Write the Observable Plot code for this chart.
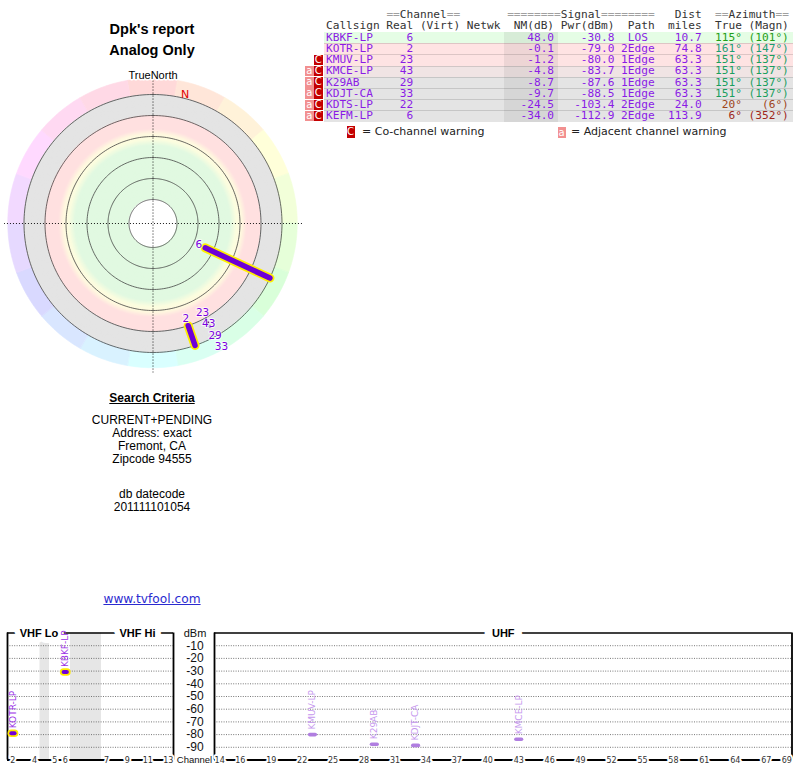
<!DOCTYPE html>
<html><head><meta charset="utf-8">
<script src="https://cdn.jsdelivr.net/npm/d3@7"></script>
<script src="https://cdn.jsdelivr.net/npm/@observablehq/plot@0.6"></script>
<style>
body{margin:0;background:#fff;}
#page{position:relative;width:800px;height:768px;overflow:hidden;font-family:"Liberation Sans",Arial,sans-serif;color:#000;}
.abs{position:absolute;white-space:pre;}
.mono{font-family:"DejaVu Sans Mono",monospace;font-size:11.15px;line-height:10.5px;}
.hdr{font-family:"DejaVu Sans Mono",monospace;font-size:11.15px;line-height:10px;height:10px;overflow:visible;}
</style></head><body>
<div id="page"></div>
<script>
// ---------------- data ----------------
const callsigns = ["KBKF-LP","KOTR-LP","KMUV-LP","KMCE-LP","K29AB","KDJT-CA","KDTS-LP","KEFM-LP"];
const realCh    = [6, 2, 23, 43, 29, 33, 22, 6];
const nmDb      = [48.0, -0.1, -1.2, -4.8, -8.7, -9.7, -24.5, -34.0];
const pwrDbm    = [-30.8, -79.0, -80.0, -83.7, -87.6, -88.5, -103.4, -112.9];
const paths     = ["LOS","2Edge","1Edge","1Edge","1Edge","1Edge","2Edge","2Edge"];
const distMi    = [10.7, 74.8, 63.3, 63.3, 63.3, 63.3, 24.0, 113.9];
const azTrue    = [115, 161, 151, 151, 151, 151, 20, 6];
const azMagn    = [101, 147, 137, 137, 137, 137, 6, 352];
const coWarn    = [false, false, true, true, true, true, true, true];
const adjWarn   = [false, false, false, true, true, true, true, true];

const ringNM      = [80, 60, 40, 20, 0, -20];
const sectorAz    = d3.range(0, 360, 20);
const dbmTicks    = [-10, -20, -30, -40, -50, -60, -70, -80, -90];
const vhfTicks    = [2, 4, 5, 6, 7, 9, 11, 13];
const uhfTicks    = [14, 16, 19, 22, 25, 28, 31, 34, 37, 40, 43, 46, 49, 52, 55, 58, 61, 64, 67, 69];
const vhfGapsMHz  = [[72, 76], [88, 174]];
const vhfBands    = [{label: "VHF Lo", lo: 54, hi: 88}, {label: "VHF Hi", lo: 174, hi: 216}];
const criteria    = ["CURRENT+PENDING", "Address: exact", "Fremont, CA", "Zipcode 94555"];

const stations = callsigns.map((c, i) => ({c, ch: realCh[i], nm: nmDb[i], pwr: pwrDbm[i], path: paths[i],
  dist: distMi[i], az: azTrue[i], mag: azMagn[i], co: coWarn[i], adj: adjWarn[i]}));

const page = document.getElementById("page");
function put(html, css) { const d = document.createElement("div"); d.className = "abs"; d.innerHTML = html; Object.assign(d.style, css); page.appendChild(d); return d; }
function centered(text, cx, cy, font, extra = {}) {
  return put(text, Object.assign({left: (cx - 150) + "px", width: "300px", textAlign: "center", top: (cy - 10) + "px", lineHeight: "20px", font}, extra));
}

// ---------------- left texts ----------------
centered("Dpk's report", 152, 31, "bold 14.5px 'Liberation Sans', Arial");
centered("Analog Only", 152, 52, "bold 14.5px 'Liberation Sans', Arial");
centered("<u>Search Criteria</u>", 152, 401, "bold 12px 'Liberation Sans', Arial");
criteria.forEach((t, i) => centered(t, 152, 422.5 + i * 13.2, "12px 'Liberation Sans', Arial"));
centered("db datecode", 152, 497, "12px 'Liberation Sans', Arial");
centered("201111101054", 152, 509.5, "12px 'Liberation Sans', Arial");
centered("<u>www.tvfool.com</u>", 152, 601.5, "12.2px 'DejaVu Sans', Verdana", {color: "#2b2bd0"});

// ---------------- radar ----------------
const R = d3.scaleLinear().domain([0, -20]).range([108, 129]);   // noise margin -> radius
const rad = a => a * Math.PI / 180;
const px = (az, r) => r * Math.sin(rad(az));
const py = (az, r) => r * Math.cos(rad(az));
const arc = (a0, a1, r, step) => d3.range(a0, a1 + 1e-9, step).map(a => ({x: px(a, r), y: py(a, r)}));
const radarColor = d3.scaleLinear()
  .domain([-20, -0.01, 0, 13, 18, 23, 29, 80])
  .range(["#e4e4e4", "#e4e4e4", "#ffe0e0", "#ffe0e0", "#fff8df", "#fcfddf", "#e1f9e1", "#e1f9e1"])
  .interpolate(d3.interpolateRgb).clamp(true);

const wedges = sectorAz.flatMap(c => arc(c - 10, c + 10, R(-35), 1).map(p => ({...p, key: c, fill: d3.hsl(c, 1, 0.925).formatHex()})));
const disks = d3.range(-20, 80, 1).flatMap(n => arc(0, 360, R(n), 2).map(p => ({...p, key: n, fill: radarColor(n + 0.5)})));
const center = arc(0, 360, R(80), 2);
const rings = ringNM.flatMap(n => arc(0, 360, R(n), 1.5).map(p => ({...p, key: n})));

const drawn = stations.filter(s => s.nm >= -20);
const bars = drawn.filter(s => !s.co);
const ticksDots = drawn.filter(s => s.co);
const placed = [];
[...drawn].sort((a, b) => R(a.nm) - R(b.nm)).forEach(s => {
  let r = R(s.nm) - 7, x, y;
  for (let k = 0; k < 80; k++) {
    x = px(s.az, r); y = py(s.az, r);
    if (!placed.some(p => Math.abs(p.x - x) < 12 && Math.abs(p.y - y) < 11)) break;
    r += 1;
  }
  placed.push({x, y, t: String(s.ch)});
});
const decl = azTrue[0] - azMagn[0];
const radarText = "'DejaVu Sans', Verdana, sans-serif";

const radar = Plot.plot({
  width: 305, height: 320, margin: 0,
  style: {background: "transparent", overflow: "visible"},
  x: {domain: [-152.5, 152.5], axis: null},
  y: {domain: [-160, 160], axis: null},
  color: {type: "identity"},
  marks: [
    Plot.area(wedges, {x1: "x", y1: "y", x2: 0, y2: 0, z: "key", fill: "fill", stroke: "fill", strokeWidth: 0.6}),
    Plot.area(disks, {x1: "x", y1: "y", x2: 0, y2: 0, z: "key", fill: "fill"}),
    Plot.area(center, {x1: "x", y1: "y", x2: 0, y2: 0, fill: "white"}),
    Plot.line(rings, {x: "x", y: "y", z: "key", stroke: "#3a3a3a", strokeWidth: 0.75}),
    Plot.link([0, 90], {x1: a => px(a, R(-39)), y1: a => py(a, R(-39)), x2: a => px(a + 180, R(-39)), y2: a => py(a + 180, R(-39)),
      stroke: "#000", strokeWidth: 0.9, strokeDasharray: "1,2"}),
    Plot.text(["TrueNorth"], {x: px(0, R(-38)), y: py(0, R(-38)), text: d => d, fontSize: 11, fill: "#000",
      fontFamily: "'Liberation Sans', Arial", stroke: "white", strokeWidth: 3, paintOrder: "stroke"}),
    Plot.text(["N"], {x: px(decl, R(-24)), y: py(decl, R(-24)), text: d => d, fontSize: 11, fill: "#e00000", fontFamily: radarText}),
    Plot.link(bars, {x1: s => px(s.az, R(s.nm)), y1: s => py(s.az, R(s.nm)), x2: s => px(s.az, R(-20)), y2: s => py(s.az, R(-20)),
      stroke: "#ffee00", strokeWidth: 9, strokeLinecap: "round"}),
    Plot.link(bars, {x1: s => px(s.az, R(s.nm)), y1: s => py(s.az, R(s.nm)), x2: s => px(s.az, R(-20)), y2: s => py(s.az, R(-20)),
      stroke: "#6e00d6", strokeWidth: 5.5, strokeLinecap: "round"}),
    Plot.dot(ticksDots, {x: s => px(s.az, R(s.nm)), y: s => py(s.az, R(s.nm)), r: 1.2, fill: "#3c0070"}),
    Plot.text(placed, {x: "x", y: "y", text: "t", fontSize: 10.5, fill: "#7a00e0", fontFamily: radarText,
      stroke: "white", strokeOpacity: 0.7, strokeWidth: 2, paintOrder: "stroke"})
  ]
});
Object.assign(radar.style, {position: "absolute", left: "0px", top: "63px"});
page.appendChild(radar);

// ---------------- table ----------------
const X0 = 326, CW = 6.72, ROW0 = 32, RH = 11.2;
const gray = s => `<span style="color:#a0a0a0">${s}</span>`;
const hdr1 = " ".repeat(9) + "==Channel==" + " ".repeat(7) + "========Signal========" + "   " + "Dist" + "  " + "==Azimuth==";
const hdr2 = "Callsign Real (Virt) Netwk  NM(dB) Pwr(dBm)  Path  miles  True (Magn)";
put(hdr1.replace(/=+/g, m => gray(m)), {left: X0 + "px", top: "10px", color: "#333"}).classList.add("hdr");
put(hdr2, {left: X0 + "px", top: "20.5px", color: "#333"}).classList.add("hdr");

const rowBg = d3.scaleLinear().domain([-8, -1, 9, 26]).range(["#e4e4e4", "#ffe3e3", "#ffe3e3", "#e5fde5"])
  .interpolate(d3.interpolateRgb).clamp(true);
const center5 = s => { const p = 5 - s.length, l = Math.floor(p / 2); return " ".repeat(l) + s + " ".repeat(p - l); };
stations.forEach((s, i) => {
  const top = ROW0 + i * RH;
  const bg = rowBg(s.nm);
  put("", {left: "324px", top: top + "px", width: "469px", height: RH + "px", background: bg,
    borderTop: i ? "1px solid rgba(0,0,0,0.13)" : "none", boxSizing: "border-box"});
  put("", {left: (X0 + 26.5 * CW) + "px", top: top + "px", width: (8 * CW) + "px", height: RH + "px",
    background: d3.interpolateRgb(bg, "#707070")(0.12), borderTop: i ? "1px solid rgba(0,0,0,0.13)" : "none", boxSizing: "border-box"});
  const line = s.c.padEnd(9) + String(s.ch).padStart(4) + " ".repeat(15) + s.nm.toFixed(1).padStart(6) + " " +
    s.pwr.toFixed(1).padStart(8) + " " + center5(s.path) + "  " + s.dist.toFixed(1).padStart(5) + "  " +
    (s.az + "°").padStart(4) + " " + ("(" + s.mag + "°)").padStart(6);
  const azc = d3.hsl(s.az, 0.72, 0.36).formatHex();
  put(`<span style="color:#8a1be6">${line.slice(0, 57)}</span><span style="color:${azc}">${line.slice(57)}</span>`,
    {left: X0 + "px", top: (top + 0.8) + "px"}).classList.add("mono");
  const badge = "font:10px 'DejaVu Sans',sans-serif;color:#fff;text-align:center;line-height:" + (RH - 0.5) + "px;";
  if (s.co) put("C", {}).setAttribute("style", `position:absolute;left:313.5px;top:${top + 0.3}px;width:9.5px;height:${RH - 0.6}px;background:#c40000;${badge}`);
  if (s.adj) put("a", {}).setAttribute("style", `position:absolute;left:305px;top:${top + 0.3}px;width:8.5px;height:${RH - 0.6}px;background:#f29090;${badge}`);
});
// legend
put("C", {}).setAttribute("style", "position:absolute;left:346.5px;top:126px;width:8px;height:11.5px;background:#c40000;color:#fff;font:10px 'DejaVu Sans',sans-serif;text-align:center;line-height:11.5px;");
put("= Co-channel warning", {left: "362px", top: "125px", font: "11px 'DejaVu Sans', Verdana", lineHeight: "14px", color: "#222"});
put("a", {}).setAttribute("style", "position:absolute;left:557.5px;top:126.5px;width:8px;height:11px;background:#f29090;color:#fff;font:10px 'DejaVu Sans',sans-serif;text-align:center;line-height:11px;");
put("= Adjacent channel warning", {left: "571px", top: "125px", font: "11px 'DejaVu Sans', Verdana", lineHeight: "14px", color: "#222"});

// ---------------- spectrum panels ----------------
const chFreq = ch => ch <= 4 ? 57 + (ch - 2) * 6 : ch <= 6 ? 79 + (ch - 5) * 6 : 177 + (ch - 7) * 6;
// VHF: frequency (MHz) -> panel position, compressed across the non-TV gaps
const vx = d3.scaleLinear().domain([54, 72, 76, 88, 174, 216]).range([7, 39.5, 49, 70, 101, 173]);
const uDom = [13.5, 69.5], uRng = [39, 616.5];
const ux = d3.scaleLinear().domain(uDom).range(uRng);
const idx = d3.scaleIdentity();
const yOpt = {domain: [-100, 0], range: [137.5, 10.5], axis: null};
const smallFont = "'DejaVu Sans', Verdana, sans-serif";
const armFont = "'Liberation Sans', Arial, sans-serif";
const visible = stations.filter(s => s.pwr >= -100);
const vhfSt = visible.filter(s => s.ch <= 13).map(s => ({...s, f: chFreq(s.ch)}));
const uhfSt = visible.filter(s => s.ch >= 14);
const good = s => !s.co && !s.adj;

function frameMarks(lo, hi) {
  return [
    Plot.ruleY(dbmTicks, {x1: lo, x2: hi, stroke: "#555", strokeWidth: 0.8, strokeDasharray: "1,1.4"}),
    Plot.ruleX([lo, hi], {y1: -100, y2: 0, stroke: "#000", strokeWidth: 1.8}),
    Plot.ruleY([0], {x1: lo, x2: hi, stroke: "#000", strokeWidth: 1.6}),
    Plot.ruleY([-100], {x1: lo, x2: hi, stroke: "#000", strokeWidth: 2.2})
  ];
}
function stationMarks(list, xs, xOf, half) {
  const gl = list.filter(good), wl = list.filter(s => !good(s));
  const x1 = s => xs.invert(xs(xOf(s)) - half), x2 = s => xs.invert(xs(xOf(s)) + half);
  return [
    Plot.link(gl, {x1, x2, y1: "pwr", y2: "pwr", stroke: "#ffe800", strokeWidth: 7.5, strokeLinecap: "round"}),
    Plot.link(gl, {x1, x2, y1: "pwr", y2: "pwr", stroke: "#7000d8", strokeWidth: 4, strokeLinecap: "round"}),
    Plot.link(wl, {x1: s => xs.invert(xs(xOf(s)) - 2.8), x2: s => xs.invert(xs(xOf(s)) + 2.8), y1: "pwr", y2: "pwr",
      stroke: "#b07ee0", strokeWidth: 3.6, strokeLinecap: "round"}),
    Plot.text(list, {x: xOf, y: "pwr", text: "c", rotate: -90, textAnchor: "start", dy: -5, fontSize: 9,
      fontFamily: smallFont, fill: s => good(s) ? "#9a30e6" : "#c597ee"})
  ];
}

const vhf = Plot.plot({
  width: 178, height: 146, margin: 0,
  style: {background: "transparent", overflow: "visible"},
  x: {domain: [0, 178], range: [0, 178], axis: null},
  y: yOpt, color: {type: "identity"},
  marks: [
    Plot.rect(vhfGapsMHz, {x1: d => vx(d[0]), x2: d => vx(d[1]), y1: -100, y2: 0, fill: "#e6e6e6"}),
    ...frameMarks(vx(54), vx(216)),
    Plot.text(vhfBands, {x: d => (vx(d.lo) + vx(d.hi)) / 2, y: 0, text: "label", fontSize: 11, fontWeight: "bold",
      fontFamily: armFont, fill: "#000", stroke: "white", strokeWidth: 12, paintOrder: "stroke"}),
    Plot.text(vhfTicks, {x: d => vx(chFreq(d)), y: -100, text: d => String(d), fontSize: 8, fontFamily: smallFont, fill: "#333",
      stroke: "white", strokeWidth: 4, paintOrder: "stroke"}),
    ...stationMarks(vhfSt, idx, s => vx(s.f), 1.65)
  ]
});
Object.assign(vhf.style, {position: "absolute", left: "0px", top: "622px"});
page.appendChild(vhf);

const uhf = Plot.plot({
  width: 625, height: 146, margin: 0,
  style: {background: "transparent", overflow: "visible"},
  x: {domain: uDom, range: uRng, axis: null},
  y: yOpt, color: {type: "identity"},
  marks: [
    ...frameMarks(13.5, 69.5),
    Plot.text(["UHF"], {x: (uDom[0] + uDom[1]) / 2, y: 0, text: d => d, fontSize: 11, fontWeight: "bold", fontFamily: armFont,
      fill: "#000", stroke: "white", strokeWidth: 16, paintOrder: "stroke"}),
    Plot.text(dbmTicks, {x: uDom[0], y: d => d, dx: -19.5, text: d => String(d), fontSize: 12, fontFamily: armFont, fill: "#111"}),
    Plot.text(["dBm"], {x: uDom[0], y: 0, dx: -19.5, text: d => d, fontSize: 11, fontFamily: armFont, fill: "#111"}),
    Plot.text(["Channel"], {x: uDom[0], y: -100, dx: -20, text: d => d, fontSize: 9.5, fontFamily: armFont, fill: "#111"}),
    Plot.text(uhfTicks, {x: d => d, y: -100, text: d => String(d), fontSize: 8, fontFamily: smallFont, fill: "#333",
      stroke: "white", strokeWidth: 4, paintOrder: "stroke"}),
    ...stationMarks(uhfSt, ux, s => s.ch, 1.65)
  ]
});
Object.assign(uhf.style, {position: "absolute", left: "175px", top: "622px"});
page.appendChild(uhf);
</script>
</body></html>
